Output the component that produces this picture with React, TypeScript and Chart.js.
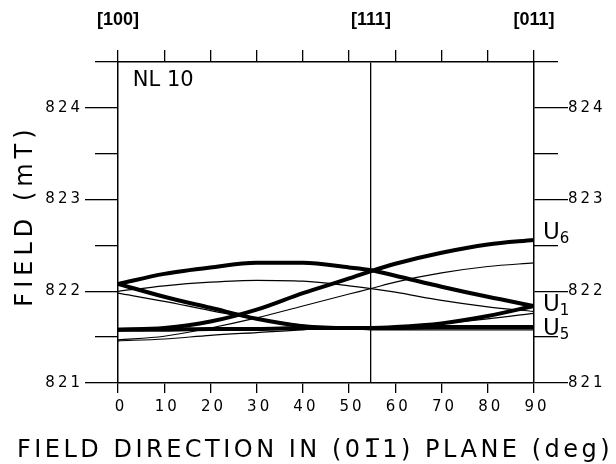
import React, { useEffect, useRef } from "react";
import { Chart, registerables } from "chart.js";

Chart.register(...registerables);

// ---- data ----
const angles = [0, 10, 20, 30, 40, 50, 54.74, 60, 70, 80, 90];
const thickArch = [822.08, 822.19, 822.26, 822.31, 822.31, 822.26, 822.23, 822.17, 822.05, 821.94, 821.84];
const thickFall = [822.08, 821.94, 821.82, 821.7, 821.62, 821.6, 821.6, 821.61, 821.65, 821.73, 821.84];
const thickRise = [821.58, 821.6, 821.67, 821.8, 821.98, 822.14, 822.22, 822.3, 822.42, 822.51, 822.56];
const thickFlat = [821.58, 821.58, 821.59, 821.59, 821.6, 821.6, 821.6, 821.6, 821.61, 821.61, 821.61];
const thinArch = [822.0, 822.06, 822.1, 822.12, 822.11, 822.06, 822.03, 821.99, 821.9, 821.83, 821.78];
const thinFall = [821.98, 821.89, 821.79, 821.7, 821.63, 821.59, 821.58, 821.58, 821.58, 821.58, 821.58];
const thinRise = [821.47, 821.51, 821.6, 821.71, 821.84, 821.97, 822.03, 822.1, 822.2, 822.27, 822.31];
const thinLow = [821.46, 821.48, 821.52, 821.55, 821.58, 821.6, 821.6, 821.61, 821.65, 821.7, 821.76];

const xTickValues = [0, 10, 20, 30, 40, 50, 60, 70, 80, 90];
const topTickValues = [0, 10, 20, 30, 40, 50, 54.74, 60, 70, 80, 90];
const directionAngles = [0, 54.74, 90];
const directionLabels = ["[100]", "[111]", "[011]"];
const yMajorTicks = [821, 822, 823, 824];
const yMinorTicks = [821.5, 822.5, 823.5, 824.5];

const xTitle = "FIELD DIRECTION IN (01\u03051) PLANE (deg)";
const yTitle = "FIELD (mT)";
const sampleName = "NL 10";
const sampleNameAt = [3.2, 824.3];
const levelNames = ["U", "U", "U"];
const levelSubs = ["6", "1", "5"];
const levelValues = [822.63, 821.85, 821.59];

const FONT = "'DejaVu Sans', sans-serif";
const BLACK = "#000";

export default function App() {
  const ref = useRef<HTMLCanvasElement>(null);

  useEffect(() => {
    document.body.style.margin = "0";
    const canvas = ref.current!;
    const mk = (vals: number[], thick: boolean) => ({
      data: angles.map((a, i) => ({ x: a, y: vals[i] })),
      borderColor: BLACK,
      borderWidth: thick ? 4 : 1.2,
      pointRadius: 0,
      cubicInterpolationMode: "monotone" as const,
      fill: false,
      xAxisID: "x",
      yAxisID: "y",
      borderCapStyle: "round" as const,
      borderJoinStyle: "round" as const,
    });

    const spacing: Record<string, { labels?: string; title?: string; titleShift?: number }> = {
      x: { labels: "3px" },
      xTop: { labels: "0px" },
      y: { labels: "3px", title: "5px", titleShift: -7 },
      yR: { labels: "3px" },
    };

    const spacingPlugin = {
      id: "spacing",
      beforeDraw(chart: any) {
        const ctx = chart.ctx;
        for (const id of Object.keys(spacing)) {
          const s = chart.scales[id];
          if (!s || s.__patched) continue;
          s.__patched = true;
          const dl = s.drawLabels.bind(s);
          const dt = s.drawTitle.bind(s);
          s.drawLabels = (a: any) => {
            const p = ctx.letterSpacing;
            ctx.letterSpacing = spacing[id].labels || "0px";
            dl(a);
            ctx.letterSpacing = p;
          };
          s.drawTitle = () => {
            ctx.save();
            ctx.letterSpacing = spacing[id].title || "0px";
            ctx.translate(0, spacing[id].titleShift || 0);
            dt();
            ctx.restore();
          };
        }
      },
    };

    const annotPlugin = {
      id: "annot",
      afterDraw(chart: any) {
        const ctx = chart.ctx;
        const xs = chart.scales.x;
        const ys = chart.scales.y;
        ctx.save();
        ctx.fillStyle = BLACK;
        ctx.textBaseline = "middle";
        ctx.textAlign = "left";
        ctx.font = `21px ${FONT}`;
        ctx.fillText(sampleName, xs.getPixelForValue(sampleNameAt[0]), ys.getPixelForValue(sampleNameAt[1]));
        for (let i = 0; i < levelNames.length; i++) {
          const px = xs.getPixelForValue(90) + 9;
          const py = ys.getPixelForValue(levelValues[i]);
          ctx.font = `23px ${FONT}`;
          ctx.fillText(levelNames[i], px, py);
          const w = ctx.measureText(levelNames[i]).width;
          ctx.font = `15px ${FONT}`;
          ctx.fillText(levelSubs[i], px + w, py + 6);
        }
        // x-axis title (wider than the plot area, so drawn here)
        (ctx as any).letterSpacing = "3.5px";
        ctx.font = `24px ${FONT}`;
        ctx.textAlign = "center";
        ctx.fillText(xTitle, 315, 451);
        (ctx as any).letterSpacing = "0px";
        ctx.restore();
      },
    };

    const tickFont = { family: FONT, size: 15 };
    const yCommon = { type: "linear" as const, min: 821, max: 824.5 };

    const chart = new Chart(canvas, {
      type: "line",
      data: {
        datasets: [
          mk(thinArch, false),
          mk(thinFall, false),
          mk(thinRise, false),
          mk(thinLow, false),
          mk(thickArch, true),
          mk(thickFall, true),
          mk(thickRise, true),
          mk(thickFlat, true),
        ],
      },
      options: {
        responsive: false,
        maintainAspectRatio: false,
        devicePixelRatio: 1,
        animation: false,
        events: [],
        layout: { padding: 0 },
        plugins: { legend: { display: false }, tooltip: { enabled: false } },
        scales: {
          x: {
            type: "linear",
            position: "bottom",
            min: 0,
            max: 90,
            afterBuildTicks: (s: any) => {
              s.ticks = xTickValues.map((v) => ({ value: v }));
            },
            ticks: {
              font: tickFont,
              color: BLACK,
              padding: 5,
              labelOffset: 3,
              maxRotation: 0,
              autoSkip: false,
              callback: (v: any) => String(v),
            },
            grid: { drawOnChartArea: false, drawTicks: true, tickLength: 10, color: BLACK, lineWidth: 1.3 },
            border: { display: true, color: BLACK, width: 1.5 },
            title: { display: false },
            afterFit: (s: any) => {
              s.height = 81;
            },
          },
          xTop: {
            type: "linear",
            position: "top",
            min: 0,
            max: 90,
            afterBuildTicks: (s: any) => {
              s.ticks = topTickValues.map((v) => ({ value: v }));
            },
            ticks: {
              font: { family: "'Liberation Sans', sans-serif", size: 18, weight: "bold" },
              color: BLACK,
              padding: 19,
              maxRotation: 0,
              autoSkip: false,
              callback: (v: any) => {
                const i = directionAngles.indexOf(v);
                return i >= 0 ? directionLabels[i] : "";
              },
            },
            grid: {
              drawOnChartArea: true,
              drawTicks: true,
              tickLength: 12,
              lineWidth: 1.3,
              color: (c: any) => (c.tick && c.tick.value === 54.74 ? BLACK : "rgba(0,0,0,0)"),
              tickColor: (c: any) => (c.tick && c.tick.value === 54.74 ? "rgba(0,0,0,0)" : BLACK),
            },
            border: { display: true, color: BLACK, width: 1.5 },
            afterFit: (s: any) => {
              s.height = 62;
            },
          },
          y: {
            ...yCommon,
            position: "left",
            weight: 1,
            afterBuildTicks: (s: any) => {
              s.ticks = yMajorTicks.map((v) => ({ value: v }));
            },
            ticks: { font: tickFont, color: BLACK, padding: 2, callback: (v: any) => String(v) },
            grid: { drawOnChartArea: false, drawTicks: true, tickLength: 33, color: BLACK, lineWidth: 1.3 },
            border: { display: true, color: BLACK, width: 1.5 },
            title: {
              display: true,
              text: yTitle,
              font: { family: FONT, size: 24 },
              color: BLACK,
              padding: { top: 11, bottom: 0 },
            },
            afterFit: (s: any) => {
              s.width = 118;
            },
          },
          yMinorL: {
            ...yCommon,
            position: "left",
            weight: 0,
            afterBuildTicks: (s: any) => {
              s.ticks = yMinorTicks.map((v) => ({ value: v }));
            },
            ticks: { display: false },
            grid: { drawOnChartArea: false, drawTicks: true, tickLength: 23, color: BLACK, lineWidth: 1.3 },
            border: { display: false },
            afterFit: (s: any) => {
              s.width = 0;
            },
          },
          yR: {
            ...yCommon,
            position: "right",
            weight: 1,
            afterBuildTicks: (s: any) => {
              s.ticks = yMajorTicks.map((v) => ({ value: v }));
            },
            ticks: { font: tickFont, color: BLACK, padding: 0, callback: (v: any) => String(v) },
            grid: { drawOnChartArea: false, drawTicks: true, tickLength: 34, color: BLACK, lineWidth: 1.3 },
            border: { display: true, color: BLACK, width: 1.5 },
            afterFit: (s: any) => {
              s.width = 82;
            },
          },
          yMinorR: {
            ...yCommon,
            position: "right",
            weight: 0,
            afterBuildTicks: (s: any) => {
              s.ticks = yMinorTicks.map((v) => ({ value: v }));
            },
            ticks: { display: false },
            grid: { drawOnChartArea: false, drawTicks: true, tickLength: 24, color: BLACK, lineWidth: 1.3 },
            border: { display: false },
            afterFit: (s: any) => {
              s.width = 0;
            },
          },
        },
      } as any,
      plugins: [spacingPlugin, annotPlugin],
    });

    return () => chart.destroy();
  }, []);

  return (
    <div style={{ width: 616, height: 464, background: "#fff" }}>
      <canvas ref={ref} width={616} height={464} style={{ display: "block" }} />
    </div>
  );
}
